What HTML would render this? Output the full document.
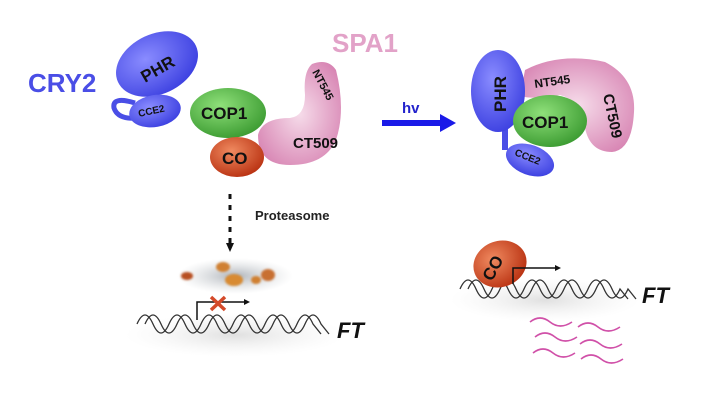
<!DOCTYPE html>
<html><head><meta charset="utf-8"><style>
html,body{margin:0;padding:0;background:#fff;}
svg{display:block;font-family:"Liberation Sans",Arial,sans-serif;}
</style></head><body>
<svg width="715" height="412" viewBox="0 0 715 412" xmlns="http://www.w3.org/2000/svg">
<defs>
<radialGradient id="blue" cx="40%" cy="35%" r="70%"><stop offset="0" stop-color="#8a8cff"/><stop offset="1" stop-color="#3b3fe0"/></radialGradient>
<radialGradient id="green" cx="40%" cy="35%" r="70%"><stop offset="0" stop-color="#8fe07a"/><stop offset="1" stop-color="#3a9a30"/></radialGradient>
<radialGradient id="red" cx="40%" cy="35%" r="70%"><stop offset="0" stop-color="#f08a60"/><stop offset="1" stop-color="#b83010"/></radialGradient>
<radialGradient id="pink" cx="50%" cy="50%" r="60%"><stop offset="0" stop-color="#f6dcea"/><stop offset="1" stop-color="#d886b4"/></radialGradient>
<radialGradient id="gray" cx="50%" cy="50%" r="50%"><stop offset="0" stop-color="#9aa0a8" stop-opacity="0.8"/><stop offset="1" stop-color="#c8ccd0" stop-opacity="0"/></radialGradient>
<radialGradient id="lgray" cx="50%" cy="50%" r="50%"><stop offset="0" stop-color="#d8d8d8" stop-opacity="0.8"/><stop offset="1" stop-color="#eee" stop-opacity="0"/></radialGradient>
<filter id="blur"><feGaussianBlur stdDeviation="1"/></filter>
</defs>

<text x="28" y="92" font-size="26" font-weight="bold" fill="#4a4ee6">CRY2</text>
<text x="332" y="52" font-size="26" font-weight="bold" fill="#e2a2c8">SPA1</text>

<path d="M258,135 Q262,118 290,118 Q305,116 305,95 Q303,72 312,64 Q328,58 336,70 Q346,110 336,140 Q325,165 290,165 Q258,165 258,135Z" fill="url(#pink)"/>
<text x="293" y="148" font-size="15" font-weight="bold" fill="#111">CT509</text>
<text transform="translate(312,72) rotate(62)" font-size="11" font-weight="bold" fill="#111">NT545</text>

<path d="M135,103 Q112,96 114,108 Q118,120 138,118" fill="none" stroke="#4a4ee6" stroke-width="5"/>
<ellipse cx="157" cy="64" rx="43" ry="30" transform="rotate(-25 157 64)" fill="url(#blue)"/>
<text transform="translate(145,83) rotate(-30)" font-size="17" font-weight="bold" fill="#111">PHR</text>
<ellipse cx="155" cy="111" rx="26" ry="16" transform="rotate(-10 155 111)" fill="url(#blue)"/>
<text transform="translate(139,117) rotate(-12)" font-size="10" font-weight="bold" fill="#111">CCE2</text>

<ellipse cx="228" cy="113" rx="38" ry="25" fill="url(#green)"/>
<text x="201" y="119" font-size="17" font-weight="bold" fill="#111">COP1</text>
<ellipse cx="237" cy="157" rx="27" ry="20" fill="url(#red)"/>
<text x="222" y="164" font-size="17" font-weight="bold" fill="#111">CO</text>

<text x="402" y="113" font-size="15" font-weight="bold" fill="#2222cc">hv</text>
<path d="M382,120 L440,120 L440,114 L456,123 L440,132 L440,126 L382,126Z" fill="#1a1ae8"/>

<path d="M525,70 Q560,52 605,62 Q636,78 634,112 Q632,150 612,152 Q590,152 585,128 Q580,100 560,95 Q535,100 520,96Z" fill="url(#pink)"/>
<text transform="translate(535,88) rotate(-8)" font-size="12" font-weight="bold" fill="#111">NT545</text>
<text transform="translate(603,95) rotate(78)" font-size="15" font-weight="bold" fill="#111">CT509</text>
<rect x="502" y="125" width="6" height="25" fill="#4a4ee6"/>
<ellipse cx="498" cy="91" rx="27" ry="41" fill="url(#blue)"/>
<text transform="translate(506,112) rotate(-90)" font-size="17" font-weight="bold" fill="#111">PHR</text>
<ellipse cx="550" cy="121" rx="37" ry="26" fill="url(#green)"/>
<text x="522" y="128" font-size="17" font-weight="bold" fill="#111">COP1</text>
<ellipse cx="530" cy="160" rx="25" ry="15" transform="rotate(20 530 160)" fill="url(#blue)"/>
<text transform="translate(514,155) rotate(22)" font-size="10" font-weight="bold" fill="#111">CCE2</text>

<line x1="230" y1="194" x2="230" y2="244" stroke="#111" stroke-width="3" stroke-dasharray="5,6"/>
<path d="M226,243 L234,243 L230,252Z" fill="#111"/>
<text x="255" y="220" font-size="13" font-weight="bold" fill="#222">Proteasome</text>
<ellipse cx="235" cy="276" rx="58" ry="18" fill="url(#gray)"/>
<ellipse cx="235" cy="335" rx="110" ry="22" fill="url(#lgray)"/>
<g filter="url(#blur)">
<ellipse cx="187" cy="276" rx="6" ry="4" fill="#b85020"/>
<ellipse cx="223" cy="267" rx="7" ry="5" fill="#d08030"/>
<ellipse cx="234" cy="280" rx="9" ry="6" fill="#d88a30"/>
<ellipse cx="256" cy="280" rx="5" ry="4" fill="#d08030"/>
<ellipse cx="268" cy="275" rx="7" ry="6" fill="#c87030"/>
</g>
<g fill="none" stroke="#333" stroke-width="1.3">
<path d="M137,324 q8,-18 16,0 q8,18 16,0 q8,-18 16,0 q8,18 16,0 q8,-18 16,0 q8,18 16,0 q8,-18 16,0 q8,18 16,0 q8,-18 16,0 q8,18 16,0 q8,-18 16,0 l8,10"/>
<path d="M145,324 q8,-18 16,0 q8,18 16,0 q8,-18 16,0 q8,18 16,0 q8,-18 16,0 q8,18 16,0 q8,-18 16,0 q8,18 16,0 q8,-18 16,0 q8,18 16,0 q8,-18 16,0 l8,10"/>
</g>
<path d="M197,320 L197,302 L246,302" fill="none" stroke="#111" stroke-width="1.5"/>
<path d="M244,299 L250,302 L244,305Z" fill="#111"/>
<path d="M211,297 L225,310 M225,297 L211,310" stroke="#d44a2a" stroke-width="3.5"/>
<text x="337" y="338" font-size="22" font-weight="bold" font-style="italic" fill="#111">FT</text>

<ellipse cx="545" cy="300" rx="95" ry="22" fill="url(#lgray)"/>
<g fill="none" stroke="#333" stroke-width="1.3">
<path d="M460,289 q8,-18 16,0 q8,18 16,0 q8,-18 16,0 q8,18 16,0 q8,-18 16,0 q8,18 16,0 q8,-18 16,0 q8,18 16,0 q8,-18 16,0 q8,18 16,0 l8,10"/>
<path d="M468,289 q8,-18 16,0 q8,18 16,0 q8,-18 16,0 q8,18 16,0 q8,-18 16,0 q8,18 16,0 q8,-18 16,0 q8,18 16,0 q8,-18 16,0 q8,18 16,0 l8,10"/>
</g>
<ellipse cx="500" cy="264" rx="27" ry="23" transform="rotate(-20 500 264)" fill="url(#red)"/>
<text transform="translate(492,282) rotate(-62)" font-size="17" font-weight="bold" fill="#111">CO</text>
<path d="M513,284 L513,268 L556,268" fill="none" stroke="#111" stroke-width="1.5"/>
<path d="M555,265 L561,268 L555,271Z" fill="#111"/>
<text x="642" y="303" font-size="22" font-weight="bold" font-style="italic" fill="#111">FT</text>
<g fill="none" stroke="#d050a8" stroke-width="1.6">
<path d="M530,322 q10,-8 20,0 t22,0"/>
<path d="M535,337 q10,-8 20,0 t22,0"/>
<path d="M533,353 q10,-8 20,0 t22,0"/>
<path d="M578,327 q10,-8 20,0 t22,0"/>
<path d="M580,344 q10,-8 20,0 t22,0"/>
<path d="M581,359 q10,-8 20,0 t22,0"/>
</g>
</svg>
</body></html>
